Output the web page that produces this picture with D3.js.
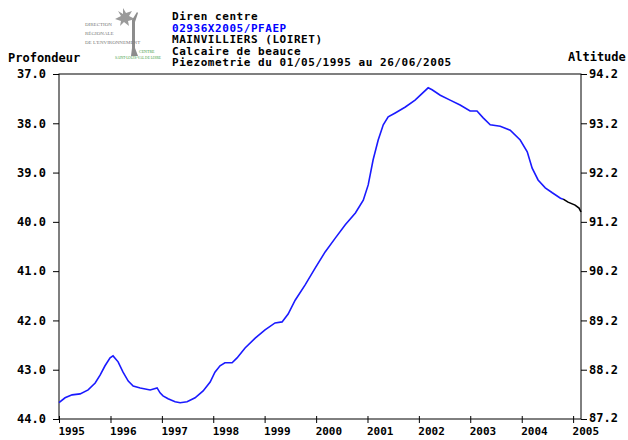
<!DOCTYPE html>
<html>
  <head>
    <meta charset="utf-8">
    <title>Piezometrie Mainvilliers</title>
    <script src="https://d3js.org/d3.v7.min.js"></script>
    <style>
      body { margin: 0; background: #fff; }
      svg text { font-family: "DejaVu Sans Mono", monospace; font-weight: bold; fill: #000; }
    </style>
  </head>
  <body>
    <svg id="chart" width="628" height="440"></svg>
    <script>
      // data: date, depth (m)
      var dates = ["1995-05-01","1995-06-13","1995-08-02","1995-09-28","1995-11-24","1996-01-13","1996-02-17","1996-03-23","1996-04-28","1996-05-19","1996-06-24","1996-07-29","1996-09-04","1996-10-09","1996-11-28","1997-02-07","1997-03-28","1997-04-18","1997-05-09","1997-06-14","1997-08-03","1997-09-08","1997-10-27","1997-12-23","1998-02-18","1998-04-09","1998-05-13","1998-06-18","1998-07-23","1998-09-12","1998-10-17","1998-12-13","1999-02-23","1999-05-04","1999-07-14","1999-09-02","1999-10-15","1999-12-04","2000-02-13","2000-04-24","2000-07-04","2000-09-14","2000-11-24","2001-02-04","2001-04-01","2001-05-06","2001-06-10","2001-07-16","2001-08-21","2001-09-25","2001-11-14","2002-01-25","2002-04-04","2002-07-06","2002-08-03","2002-09-30","2002-12-09","2003-02-18","2003-04-30","2003-06-18","2003-08-01","2003-09-20","2003-11-30","2004-02-09","2004-04-20","2004-06-09","2004-07-14","2004-08-25","2004-10-15","2004-12-04","2005-01-31","2005-02-20","2005-03-26","2005-05-15","2005-06-12","2005-06-26"];
      var depths = [43.67,43.57,43.51,43.49,43.41,43.27,43.11,42.92,42.76,42.72,42.84,43.05,43.23,43.33,43.37,43.41,43.37,43.47,43.53,43.59,43.65,43.67,43.65,43.57,43.43,43.25,43.05,42.92,42.86,42.86,42.76,42.56,42.36,42.19,42.05,42.03,41.87,41.59,41.28,40.94,40.61,40.33,40.06,39.82,39.56,39.25,38.74,38.34,38.03,37.87,37.79,37.67,37.53,37.28,37.32,37.43,37.53,37.63,37.75,37.75,37.89,38.03,38.06,38.14,38.34,38.58,38.91,39.15,39.31,39.41,39.52,39.54,39.60,39.66,39.72,39.80];
      var provisionalFrom = "2005-02-20"; // drawn in black after this date
      var depthTicks = [37, 38, 39, 40, 41, 42, 43, 44];
      var groundLevel = 131.2; // altitude = groundLevel - depth
      var yearTicks = [1995, 1996, 1997, 1998, 1999, 2000, 2001, 2002, 2003, 2004, 2005];
      var titleLines = ["Diren centre", "02936X2005/PFAEP", "MAINVILLIERS (LOIRET)", "Calcaire de beauce", "Piezometrie du 01/05/1995 au 26/06/2005"];

      var parse = d3.timeParse("%Y-%m-%d");
      var series = dates.map(function(d, i) { return { date: parse(d), depth: depths[i] }; });
      var cut = parse(provisionalFrom);

      var svg = d3.select("#chart");
      var margin = { top: 74, right: 47, bottom: 21, left: 59 };
      var width = 628 - margin.left - margin.right;
      var height = 440 - margin.top - margin.bottom;

      var x = d3.scaleTime()
        .domain([series[0].date, series[series.length - 1].date])
        .range([0, width]);
      var y = d3.scaleLinear().domain([37, 44]).range([0, height]);
      var yAlt = d3.scaleLinear().domain([groundLevel - 37, groundLevel - 44]).range([0, height]);

      var g = svg.append("g").attr("transform", "translate(" + margin.left + "," + margin.top + ")");

      // frame
      g.append("rect")
        .attr("width", width).attr("height", height)
        .attr("fill", "none").attr("stroke", "#000").attr("stroke-width", 1);

      // left axis
      var left = g.append("g")
        .call(d3.axisLeft(y).tickValues(depthTicks).tickFormat(d3.format(".1f")).tickSize(6).tickPadding(7));
      // right axis
      var right = g.append("g")
        .attr("transform", "translate(" + width + ",0)")
        .call(d3.axisRight(yAlt).tickValues(depthTicks.map(function(d) { return groundLevel - d; }))
          .tickFormat(d3.format(".1f")).tickSize(6).tickPadding(2));
      // bottom axis: ticks at each anniversary of the first measurement
      var start = series[0].date;
      var bottom = g.append("g")
        .attr("transform", "translate(0," + height + ")")
        .call(d3.axisBottom(x)
          .tickValues(yearTicks.map(function(yr) { return new Date(yr, start.getMonth(), start.getDate()); }))
          .tickFormat(d3.timeFormat("%Y")).tickSize(4));
      bottom.selectAll(".tick line").attr("y1", -3);
      bottom.selectAll(".tick text")
        .attr("text-anchor", "start").attr("x", -1).attr("y", 8).attr("dy", "0.71em")
        .style("font-size", "11px");

      [left, right, bottom].forEach(function(a) {
        a.select(".domain").remove();
        a.selectAll(".tick line").attr("stroke", "#000");
        a.selectAll(".tick text").style("font-family", "DejaVu Sans Mono").style("font-weight", "bold");
      });
      left.selectAll(".tick text").style("font-size", "12px");
      right.selectAll(".tick text").style("font-size", "12px");
      right.selectAll(".tick text").filter(function(d) { return Math.abs(d - 87.2) < 0.01; }).attr("dy", "0.2em");

      // curve
      var line = d3.line()
        .x(function(d) { return x(d.date); })
        .y(function(d) { return y(d.depth); });
      g.append("path")
        .datum(series.filter(function(d) { return d.date <= cut; }))
        .attr("d", line)
        .attr("fill", "none").attr("stroke", "#1a1aff").attr("stroke-width", 1.6);
      g.append("path")
        .datum(series.filter(function(d) { return d.date >= cut; }))
        .attr("d", line)
        .attr("fill", "none").attr("stroke", "#000").attr("stroke-width", 1.6);

      // axis titles
      svg.append("text").attr("x", 8).attr("y", 62).style("font-size", "12px").text("Profondeur");
      svg.append("text").attr("x", 568).attr("y", 61).style("font-size", "12px").text("Altitude");

      // header text
      svg.selectAll(".title")
        .data(titleLines)
        .enter().append("text")
          .attr("class", "title")
          .attr("x", 172)
          .attr("y", function(d, i) { return 20 + i * 11.6; })
          .style("font-size", "11px")
          .style("letter-spacing", "0.55px")
          .style("fill", function(d, i) { return i == 1 ? "#0000ff" : "#000"; })
          .text(function(d) { return d; });

      // logo (rough)
      var logo = svg.append("g").attr("transform", "translate(85,0)");
      logo.append("path")
        .attr("d", "M38,8 L41,13 L47,11 L44,16 L50,19 L43,21 L44,26 L39,22 L35,26 L36,21 L30,19 L36,16 L33,11 L38,14 Z")
        .attr("fill", "#9a9a9a");
      logo.append("path")
        .attr("d", "M47,20 L52,12 L53,13 L50,22 L50,48 L53,56 L46,56 L47,48 Z")
        .attr("fill", "#8c8c8c");
      var logoText = [["DIRECTION", 26], ["RÉGIONALE", 35], ["DE L'ENVIRONNEMENT", 44]];
      logo.selectAll(".lt")
        .data(logoText)
        .enter().append("text")
          .attr("x", 0).attr("y", function(d) { return d[1]; })
          .style("font-family", "Liberation Serif").style("font-weight", "normal")
          .style("font-size", "5px").style("fill", "#777")
          .text(function(d) { return d[0]; });
      logo.append("text").attr("x", 54).attr("y", 53)
        .style("font-family", "Liberation Serif").style("font-weight", "normal")
        .style("font-size", "4px").style("fill", "#3a9a3a").text("CENTRE");
      logo.append("text").attr("x", 30).attr("y", 59)
        .style("font-family", "Liberation Serif").style("font-weight", "normal")
        .style("font-size", "3.5px").style("fill", "#3a9a3a").text("SAINT-LOUIS-VAL DE LOIRE");
    </script>
  </body>
</html>
